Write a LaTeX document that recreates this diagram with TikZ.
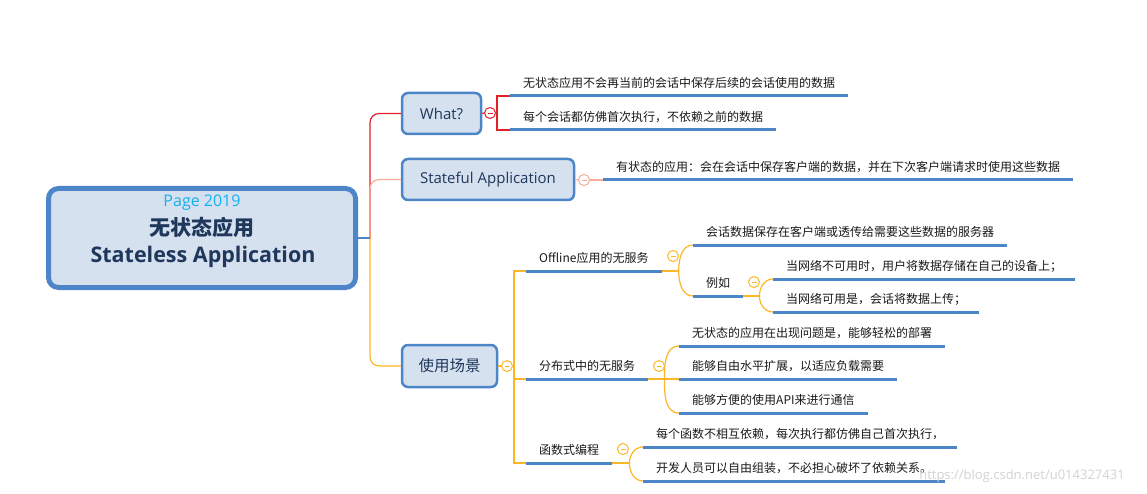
\documentclass[tikz,border=0pt]{standalone}
\usepackage{fontspec}
\setmainfont{Open Sans}
\newfontfamily\cjk{Noto Sans CJK SC}
\usepackage{tikz}
\usetikzlibrary{positioning, calc}
\definecolor{topicfill}{RGB}{214,225,240}
\definecolor{topicline}{RGB}{76,134,200}
\definecolor{topictext}{RGB}{30,55,90}
\definecolor{pagecyan}{RGB}{20,176,240}
\definecolor{branchred}{RGB}{228,32,38}
\definecolor{branchsalmon}{RGB}{246,172,150}
\definecolor{branchorange}{RGB}{251,183,40}
\definecolor{leaftext}{RGB}{25,25,25}

\begin{document}
\begin{tikzpicture}[x=1pt, y=-1pt,
  topic/.style={draw=topicline, line width=2.5pt, fill=topicfill, rounded corners=6pt,
    text=topictext, font=\fontsize{15}{18}\selectfont, inner sep=0pt},
  leaf/.style={anchor=south west, inner xsep=13pt, inner ysep=7pt, text height=10pt,
    text depth=1.5pt, font=\cjk\fontsize{12}{14}\selectfont, text=leaftext},
  uline/.style={topicline, line width=3pt},
  fold/.style={circle, draw, fill=white, line width=1pt, minimum size=11pt, inner sep=0pt},
  minus/.style={line width=0.9pt}]
  % Canvas
  \useasboundingbox (0,0) rectangle (1147,494);
  % Central topic
  \node[topic, line width=5pt, rounded corners=10pt, minimum width=307pt, minimum height=99pt]
    (root) at (202,238) {};
  \node[text=pagecyan, font=\fontsize{16}{18}\selectfont] (page) at (202,202.5) {Page 2019};
  \node[text=topictext, font=\cjk\bfseries\fontsize{21}{24}\selectfont] (titlecn) at (202,227.5) {无状态应用};
  \node[text=topictext, font=\bfseries\fontsize{21.5}{24}\selectfont] (titleen) at (203,256.5) {Stateless Application};
  % Main topics
  \node[topic, minimum width=79pt, minimum height=41pt] (what) at (441.5,113.5) {What?};
  \node[topic, minimum width=172pt, minimum height=41pt] (stateful) at (488,179.5) {Stateful Application};
  \node[topic, minimum width=95pt, minimum height=42pt, font=\cjk\fontsize{15.5}{18}\selectfont]
    (scene) at (449.5,366) {使用场景};
  % Leaves: What?
  \node[leaf] (w1) at (510,96) {无状态应用不会再当前的会话中保存后续的会话使用的数据};
  \node[leaf] (w2) at (510,130) {每个会话都仿佛首次执行，不依赖之前的数据};
  % Leaves: Stateful Application
  \node[leaf] (s1) at (603,180) {有状态的应用：会在会话中保存客户端的数据，并在下次客户端请求时使用这些数据};
  % Leaves: 使用场景
  \node[leaf] (u1) at (526,271) {Offline应用的无服务};
  \node[leaf] (o1) at (693,245) {会话数据保存在客户端或透传给需要这些数据的服务器};
  \node[leaf] (o2) at (693,296) {例如};
  \node[leaf] (e1) at (773,279) {当网络不可用时，用户将数据存储在自己的设备上；};
  \node[leaf] (e2) at (773,312) {当网络可用是，会话将数据上传；};
  \node[leaf] (u2) at (526,379) {分布式中的无服务};
  \node[leaf] (d1) at (679,346) {无状态的应用在出现问题是，能够轻松的部署};
  \node[leaf] (d2) at (679,379) {能够自由水平扩展，以适应负载需要};
  \node[leaf] (d3) at (679,413) {能够方便的使用API来进行通信};
  \node[leaf] (u3) at (526,463) {函数式编程};
  \node[leaf] (f1) at (643,447) {每个函数不相互依赖，每次执行都仿佛自己首次执行，};
  \node[leaf] (f2) at (643,481) {开发人员可以自由组装，不必担心破坏了依赖关系。};
  % Fold markers
  \node[fold, draw=branchred] (wc) at (490,113) {};
  \node[fold, draw=branchsalmon] (sc) at (584,180) {};
  \node[fold, draw=branchorange] (uc) at (507,366) {};
  \node[fold, draw=branchorange] (oc) at (673,256) {};
  \node[fold, draw=branchorange] (ec) at (754,282) {};
  \node[fold, draw=branchorange] (dc) at (659,366) {};
  \node[fold, draw=branchorange] (fc) at (623,449) {};
  % Junctions
  \coordinate (hub) at (370,238);
  \coordinate (wb) at (497,113);
  \coordinate (ut) at (514,366);
  \coordinate (oj) at ([xshift=17pt]u1.south east);
  \coordinate (ej) at ([xshift=16pt]o2.south east);
  \coordinate (dj) at ([xshift=16pt]u2.south east);
  \coordinate (fj) at ([xshift=17pt]u3.south east);
  % Root branches
  \draw[branchred, line width=1.2pt, rounded corners=9pt] (hub) |- (what.west);
  \draw[branchsalmon, line width=1.2pt, rounded corners=9pt] (hub) |- (stateful.west);
  \draw[branchorange, line width=1.2pt, rounded corners=9pt] (hub) |- (scene.west);
  \draw[topicline, line width=1.2pt] (root.east) -- (hub);
  % What? branch
  \draw[branchred, line width=1.2pt] (what.east) -- (wc.west);
  \draw[branchred, line width=1.2pt] (wc.east) -- (wb) |- (w1.south west);
  \draw[branchred, line width=1.2pt] (wb) |- (w2.south west);
  % Stateful branch
  \draw[branchsalmon, line width=1.2pt] (stateful.east) -- (sc.west);
  \draw[branchsalmon, line width=1.2pt] (sc.east) -- (s1.south west);
  % 使用场景 branch
  \draw[branchorange, line width=1.2pt] (scene.east) -- (uc.west);
  \draw[branchorange, line width=1.2pt] (uc.east) -- (ut);
  \foreach \n in {u1,u2,u3}{
    \draw[branchorange, line width=1.2pt] (ut) |- (\n.south west);
  }
  \draw[branchorange, line width=1.2pt] (u1.south east) -- (oj);
  \draw[branchorange, line width=1.2pt] (oj) to[out=90, in=180] (o1.south west);
  \draw[branchorange, line width=1.2pt] (oj) to[out=-90, in=180] (o2.south west);
  \draw[branchorange, line width=1.2pt] (o2.south east) -- (ej);
  \draw[branchorange, line width=1.2pt] (ej) to[out=90, in=180] (e1.south west);
  \draw[branchorange, line width=1.2pt] (ej) to[out=-90, in=180] (e2.south west);
  \draw[branchorange, line width=1.2pt] (u2.south east) -- (dj) -- (d2.south west);
  \draw[branchorange, line width=1.2pt] (dj) to[out=90, in=180] (d1.south west);
  \draw[branchorange, line width=1.2pt] (dj) to[out=-90, in=180] (d3.south west);
  \draw[branchorange, line width=1.2pt] (u3.south east) -- (fj);
  \draw[branchorange, line width=1.2pt] (fj) to[out=90, in=180] (f1.south west);
  \draw[branchorange, line width=1.2pt] (fj) to[out=-90, in=180] (f2.south west);
  % Underlines
  \foreach \n in {w1,w2,s1,u1,o1,o2,e1,e2,u2,d1,d2,d3,u3,f1,f2}{
    \draw[uline] (\n.south west) -- (\n.south east);
  }
  % Minus signs in fold markers
  \foreach \n/\c in {wc/branchred, sc/branchsalmon, uc/branchorange, oc/branchorange,
                     ec/branchorange, dc/branchorange, fc/branchorange}{
    \draw[minus, \c] ([xshift=-2.5pt]\n.center) -- ([xshift=2.5pt]\n.center);
  }
  % Watermark
  \node[text=gray!35, font=\fontsize{13}{15}\selectfont] (mark) at (1022,476) {https://blog.csdn.net/u014327431};
\end{tikzpicture}
\end{document}
